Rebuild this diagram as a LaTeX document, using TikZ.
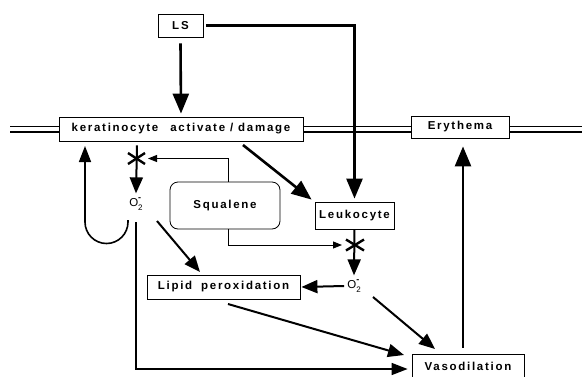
\documentclass[tikz,border=0pt]{standalone}
\usepackage{fontspec}
\setmainfont{Liberation Sans}[LetterSpace=15]
\usetikzlibrary{arrows.meta,calc}
\newcommand{\superox}{O\makebox[0pt][l]{\raisebox{6pt}{\fontsize{9}{9}\selectfont\bfseries -}}\raisebox{-4pt}{\fontsize{8}{8}\selectfont 2}}
\begin{document}
\begin{tikzpicture}[x=1pt,y=-1pt,
  box/.style={draw, line width=0.8pt, inner sep=0pt, font=\bfseries\fontsize{11.5}{13}\selectfont},
  ox/.style={inner sep=0pt, font=\fontsize{11.5}{13}\selectfont},
  bigarrow/.style={line width=2.6pt, -{Triangle[length=20pt,width=16pt]}},
  midarrow/.style={line width=2pt, -{Triangle[length=16pt,width=13pt]}},
  thinline/.style={line width=0.9pt},
  xmark/.style={line width=2.4pt},
  membrane/.style={line width=1.3pt}]
\useasboundingbox (0,0) rectangle (582,376);

% nodes
\node[box, minimum width=45pt, minimum height=23pt] (ls) at (180.5,25.5) {L\hspace{2pt}S};
\node[box, minimum width=244pt, minimum height=24pt] (kera) at (181,129) {keratinocyte\hspace{7pt} activate / damage};
\node[box, minimum width=98pt, minimum height=22pt] (ery) at (460,127) {Erythema};
\node[box, minimum width=79pt, minimum height=27pt] (leuk) at (354.5,215.5) {Leukocyte};
\node[box, rounded corners=8pt, minimum width=110pt, minimum height=47pt] (squal) at (225,205.5) {Squalene};
\node[box, minimum width=153pt, minimum height=24pt] (lipid) at (223.5,287) {Lipid\hspace{4pt} peroxidation};
\node[box, minimum width=112pt, minimum height=24pt] (vaso) at (468,366) {Vasodilation};
\node[ox] (o1) at (136,204) {\superox};
\node[ox] (o2) at (354,286) {\superox};

% block points
\coordinate (x1) at (137,158.5);
\coordinate (x2) at (355,245);

% membrane double lines
\foreach \yy in {126.5,132} {
  \draw[membrane] (10,\yy) -- (kera.west |- 0,\yy);
  \draw[membrane] (kera.east |- 0,\yy) -- (ery.west |- 0,\yy);
  \draw[membrane] (ery.east |- 0,\yy) -- (582,\yy);
}

% LS arrows
\draw[bigarrow] ($(ls.south)+(0,6)$) -- ($(kera.north)+(0,-3)$);
\draw[bigarrow] ($(ls.east)+(3,0)$) -| ($(leuk.north)+(0,-3)$);

% keratinocyte -> leukocyte
\draw[bigarrow] (243,145) -- ($(leuk.north west)+(-3,-2)$);

% keratinocyte -> X -> O2
\draw[midarrow] ($(kera.south -| x1)+(0,4)$) -- ($(o1.north)+(0,-4)$);
\draw[xmark] ($(x1)+(-9,-5.5)$) -- ($(x1)+(8,5.5)$);
\draw[xmark] ($(x1)+(-9,5.5)$) -- ($(x1)+(8,-5.5)$);

% squalene inhibition
\draw[thinline, -{Triangle[length=9pt,width=7pt]}] (squal.north -| 228,0) |- ($(x1)+(11,0)$);
\draw[thinline, -{Triangle[length=9pt,width=7pt]}] (squal.south -| 228,0) |- ($(x2)+(-13,0)$);

% leukocyte -> X -> O2
\draw[midarrow] (leuk.south) -- ($(o2.north)+(0,-4)$);
\draw[xmark] ($(x2)+(-9,-5.5)$) -- ($(x2)+(9,5.5)$);
\draw[xmark] ($(x2)+(-9,5.5)$) -- ($(x2)+(9,-5.5)$);

% loop from O2 back to keratinocyte
\draw[line width=1.6pt, -{Triangle[length=16pt,width=12pt]}] (128,220) -- (128,222) arc[start angle=0, end angle=180, radius=21.5] -- (85,146);

% O2 -> lipid peroxidation
\draw[midarrow] (157,221) -- (200,272);
% O2 (leukocyte) -> lipid
\draw[midarrow] ($(o2.west)+(-3,0)$) -- ($(lipid.east)+(1,0)$);
% O2 (leukocyte) -> vasodilation
\draw[midarrow] (373,297) -- (435,349);
% lipid -> vasodilation
\draw[midarrow] (228,304) -- (404,355);
% O2 -> vasodilation long path
\draw[line width=1.6pt, -{Triangle[length=16pt,width=12pt]}] (136,222) |- ($(vaso.west |- 0,369)+(-4,0)$);
% vasodilation -> erythema
\draw[bigarrow] ($(vaso.north -| 463,0)+(0,-6)$) -- ($(ery.south -| 463,0)+(0,8)$);
\end{tikzpicture}
\end{document}
